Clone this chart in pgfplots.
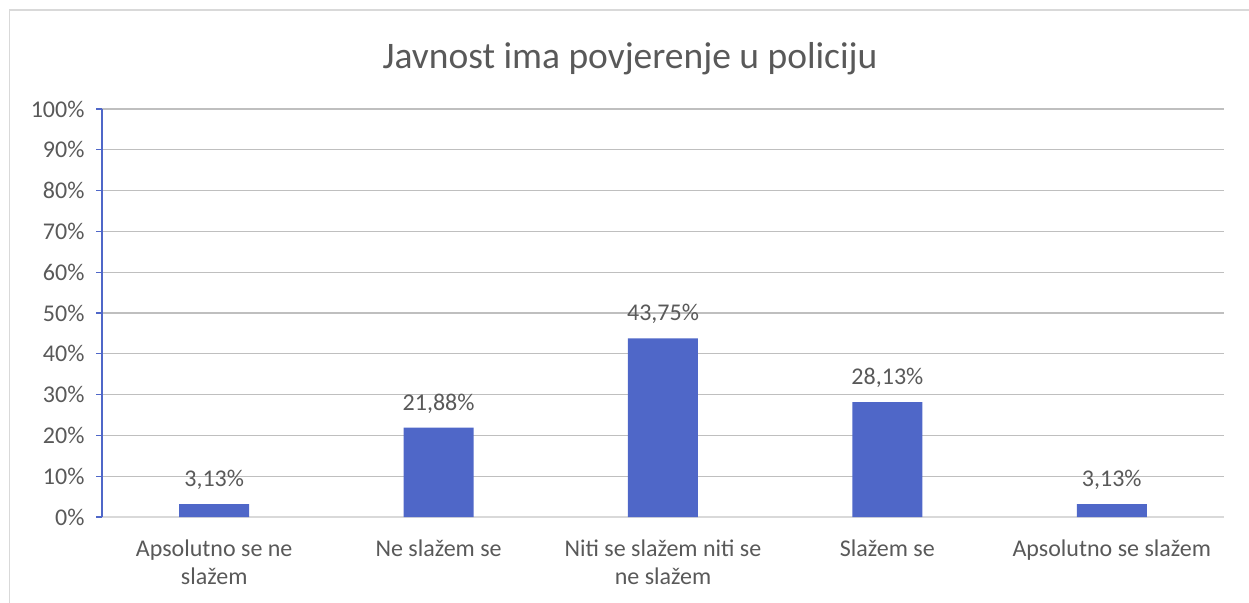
\documentclass[border=0pt]{standalone}
\usepackage{pgfplots}
\pgfplotsset{compat=1.18}
\usepackage{fontspec}
\setmainfont{Carlito}
\definecolor{barblue}{HTML}{4F67C8}
\definecolor{txt}{HTML}{595959}
\definecolor{grid}{HTML}{D9D9D9}
\begin{document}
\begin{tikzpicture}[x=1pt,y=1pt]
\useasboundingbox (0,0) rectangle (1249,602);
\draw[grid, line width=1.5pt] (9.5,-5) -- (9.5,592) -- (1260,592);
\node[txt, font=\fontsize{37.5}{44}\selectfont] at (630,543) {Javnost ima povjerenje u policiju};
\begin{axis}[
  at={(102pt,85pt)}, anchor=south west,
  scale only axis, width=1122pt, height=408pt,
  xmin=-0.5, xmax=4.5, ymin=0, ymax=100,
  axis y line*=left, axis x line*=bottom,
  axis line style={barblue, line width=1.2pt},
  x axis line style={grid, line width=1.2pt},
  ytick={0,10,...,100},
  yticklabel={\pgfmathprintnumber{\tick}\%},
  /pgf/number format/assume math mode=true,
  ymajorgrids, xmajorgrids=false, grid style={grid, line width=1.2pt},
  xtick=data,
  xticklabels={Apsolutno se ne\\slažem, Ne slažem se, Niti se slažem niti se\\ne slažem, Slažem se, Apsolutno se slažem},
  xticklabel style={txt, font=\fontsize{24}{28.5}\selectfont, align=center, yshift=-13pt},
  yticklabel style={txt, font=\fontsize{24}{28}\selectfont, xshift=-8pt},
  xtick style={draw=none},
  ytick style={barblue, line width=1.2pt},
  tick align=outside, major tick length=6pt,
  ybar, bar width=70pt,
  nodes near coords={\pgfmathprintnumber[fixed, fixed zerofill, precision=2, use comma]{\pgfplotspointmeta}\%},
  nodes near coords style={txt, font=\fontsize{24}{28}\selectfont, yshift=11pt},
]
\addplot[fill=barblue, draw=none] coordinates {(0,3.13) (1,21.88) (2,43.75) (3,28.13) (4,3.13)};
\end{axis}
\end{tikzpicture}
\end{document}
